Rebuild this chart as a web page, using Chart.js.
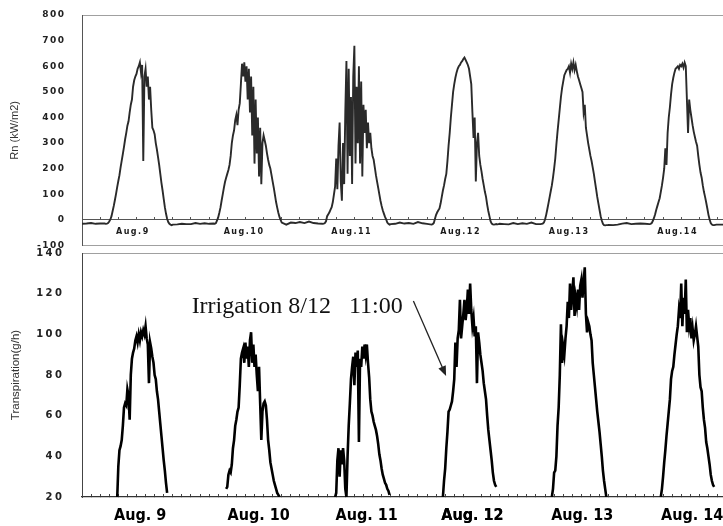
<!DOCTYPE html>
<html>
<head>
<meta charset="utf-8">
<script src="https://cdn.jsdelivr.net/npm/chart.js@4.4.0/dist/chart.umd.min.js"></script>
<style>
  html, body { margin: 0; padding: 0; background: #fff; }
  #wrap { position: relative; width: 723px; height: 526px; overflow: hidden; }
  canvas { position: absolute; left: 0; }
  #rn { top: 0; }
  #tp { top: 240px; }
</style>
</head>
<body>
<div id="wrap">
  <canvas id="rn" width="740" height="256"></canvas>
  <canvas id="tp" width="740" height="286"></canvas>
</div>
<script>
// time axis: hours counted from Aug 9, 00:00
const rnLabels = ['Aug.9', 'Aug.10', 'Aug.11', 'Aug.12', 'Aug.13', 'Aug.14'];
const tpLabels = ['Aug. 9', 'Aug. 10', 'Aug. 11', 'Aug. 12', 'Aug. 13', 'Aug. 14'];
const rnLabelHours = [11.2, 35.7, 59.4, 83.4, 107.3, 131.2];
const tpLabelHours = [12.8, 38.9, 62.7, 86.0, 110.2, 134.4];

const step = 0.25;          // readings every 15 min in daytime
const rnDayStart = 5;       // Rn daytime block runs 5:00 - 20:00

// Rn at night, hourly: 0,1,2,3,4 h and 21,22,23 h
const rnNightHours = [0, 1, 2, 3, 4, 21, 22, 23];
const rnNight = [
  [-15, -14, -12, -15, -14, -17, -15, -16],
  [-16, -12, -15, -13, -15, -18, -10, -12],
  [-8, -12, -6, -12, -14, -15, -10, -14],
  [-12, -15, -8, -13, -15, -16, -17, -12],
  [-16, -13, -15, -10, -16, -20, -18, -14],
  [-12, -16, -15, -14, -15, -18, -18, -18]
];

// Rn (kW/m2) daytime, 5:00 to 20:00
const rnAug9 = [-14, -15, -14, -12, -6, 2, 15, 35, 55, 78,
  102, 128, 152, 175, 205, 232, 258, 285, 315, 340,
  368, 385, 420, 450, 470, 520, 545, 560, 570, 590,
  600, 615, 575, 605, 230, 560, 590, 520, 560, 470,
  520, 430, 360, 350, 335, 300, 275, 245, 215, 180,
  145, 115, 82, 50, 25, 5, -8, -15, -18, -20, -18];
const rnAug10 = [-14, -15, -12, -2, 10, 28, 48, 75, 100, 125,
  148, 165, 180, 195, 215, 250, 300, 330, 350, 390,
  410, 370, 430, 455, 530, 610, 560, 615, 540, 600,
  470, 590, 420, 560, 330, 520, 220, 470, 260, 400,
  170, 360, 140, 300, 330, 310, 290, 260, 235, 215,
  200, 175, 150, 125, 98, 70, 48, 28, 12, 0, -10];
const rnAug11 = [-15, -14, -12, -5, 15, 22, 30, 40, 50, 70,
  100, 130, 240, 120, 290, 380, 150, 75, 300, 140,
  420, 620, 180, 590, 250, 480, 140, 560, 680, 220,
  520, 300, 600, 220, 540, 170, 450, 340, 430, 280,
  380, 300, 340, 280, 250, 235, 205, 175, 150, 125,
  100, 75, 55, 38, 25, 12, 2, -10, -15, -18, -16];
const rnAug12 = [-18, -16, -12, 5, 20, 30, 38, 45, 65, 90,
  115, 135, 160, 180, 230, 290, 340, 400, 450, 500,
  530, 555, 575, 590, 600, 605, 615, 620, 628, 634,
  625, 615, 605, 590, 560, 530, 420, 320, 400, 150,
  300, 340, 250, 215, 190, 160, 135, 110, 90, 60,
  35, 15, -5, -14, -17, -18, -17, -16, -17, -16, -15];
const rnAug13 = [-16, -15, -14, -10, 2, 20, 42, 65, 88, 112,
  135, 165, 200, 240, 295, 345, 390, 435, 480, 515,
  540, 565, 575, 585, 590, 600, 575, 610, 590, 615,
  585, 605, 580, 560, 545, 530, 515, 500, 420, 450,
  360, 330, 300, 275, 250, 230, 205, 180, 150, 120,
  90, 65, 40, 15, -2, -15, -20, -21, -20, -20, -19];
const rnAug14 = [-16, -15, -12, -3, 8, 22, 40, 55, 70, 85,
  110, 135, 165, 200, 280, 215, 340, 400, 440, 490,
  530, 555, 575, 590, 595, 600, 590, 605, 600, 610,
  595, 614, 600, 470, 340, 470, 430, 400, 370, 345,
  325, 305, 290, 250, 215, 185, 165, 135, 110, 90,
  68, 45, 20, 2, -12, -18, -20, -20, -19, -18, -18];
const rnDays = [rnAug9, rnAug10, rnAug11, rnAug12, rnAug13, rnAug14];

// Transpiration (g/h), daytime only, starting at tpStart hour of each day
const tpStart = [7.75, 7.75, 7.75, 7.5, 7.5, 7.5];
const tpAug9 = [19, 35, 43, 45, 48, 55, 64, 66, 65, 73,
  70, 58, 80, 88, 91, 93, 97, 99, 96, 100,
  97, 101, 99, 102, 100, 104, 98, 95, 76, 96,
  93, 89, 86, 80, 78, 72, 68, 62, 56, 50,
  44, 38, 33, 27, 22];
const tpAug10 = [24, 25, 31, 33, 32, 36, 44, 48, 55, 58,
  62, 64, 75, 88, 91, 93, 86, 96, 88, 94,
  84, 97, 101, 86, 95, 84, 90, 80, 72, 84,
  66, 48, 62, 66, 67, 65, 58, 48, 43, 37,
  34, 31, 28, 26, 24, 22, 21, 20];
const tpAug11 = [20, 22, 38, 44, 30, 43, 36, 44, 38, 24,
  20, 40, 55, 66, 78, 84, 89, 75, 91, 84,
  92, 47, 88, 84, 94, 88, 95, 90, 95, 86,
  79, 68, 62, 60, 57, 55, 53, 50, 46, 41,
  38, 34, 31, 29, 27, 26, 24, 23, 21];
const tpAug12 = [20, 28, 34, 44, 52, 62, 63, 65, 67, 72,
  78, 96, 84, 98, 102, 117, 98, 104, 110, 117,
  107, 112, 122, 110, 125, 112, 104, 108, 99, 104,
  76, 101, 96, 90, 86, 82, 76, 72, 68, 60,
  53, 48, 43, 38, 32, 28, 26, 25];
const tpAug13 = [20, 24, 32, 33, 40, 55, 64, 80, 105, 86,
  94, 90, 98, 104, 116, 108, 125, 112, 120, 128,
  109, 118, 114, 122, 112, 124, 127, 118, 126, 133,
  110, 101, 106, 104, 100, 97, 86, 80, 74, 68,
  62, 57, 52, 46, 40, 33, 28, 24, 20];
const tpAug14 = [20, 24, 30, 37, 43, 50, 56, 62, 68, 78,
  82, 84, 90, 95, 100, 104, 112, 108, 125, 104,
  118, 110, 127, 101, 112, 104, 108, 98, 103, 97,
  100, 104, 99, 94, 80, 74, 72, 64, 58, 54,
  47, 44, 40, 36, 31, 28, 26, 25];
const tpDays = [tpAug9, tpAug10, tpAug11, tpAug12, tpAug13, tpAug14];

const xMax = 141.2;

// annotation placement (hour, g/h)
const noteText = 'Irrigation 8/12   11:00';
const notePos = [24.15, 110.6];
const arrowFrom = [73.0, 116.4];
const arrowTo = [80.2, 79.5];

const rnPoints = [];
rnDays.forEach((vals, d) => {
  const night = rnNight[d];
  rnNightHours.forEach((h, i) => {
    if (h < rnDayStart) rnPoints.push({x: d * 24 + h, y: night[i]});
  });
  vals.forEach((v, i) => rnPoints.push({x: d * 24 + rnDayStart + i * step, y: v}));
  rnNightHours.forEach((h, i) => {
    if (h > rnDayStart) rnPoints.push({x: d * 24 + h, y: night[i]});
  });
});

const tpPoints = [];
tpDays.forEach((vals, d) => {
  vals.forEach((v, i) => tpPoints.push({x: d * 24 + tpStart[d] + i * step, y: v}));
  tpPoints.push({x: d * 24 + 21, y: null});
});

const hourTicks = (every, labelHours) => (scale) => {
  const t = [];
  for (let h = 0; h <= xMax; h += every) t.push(h);
  labelHours.forEach(h => t.push(h));
  t.sort((a, b) => a - b);
  scale.ticks = t.map(v => ({value: v}));
};

const dayLabel = (labelHours, labels) => (value) => {
  const i = labelHours.indexOf(value);
  return i < 0 ? '' : labels[i];
};

const markColor = (labelHours, color) => (ctx) =>
  ctx.tick && labelHours.includes(ctx.tick.value) ? 'rgba(0,0,0,0)' : color;

// tick labels (z: 1) are drawn after the datasets, with letter spacing
const spacedTicks = (px) => ({
  id: 'spacedTicks',
  beforeDraw(chart) { chart.ctx.letterSpacing = '0px'; },
  afterDatasetsDraw(chart) { chart.ctx.letterSpacing = px; }
});

const irrigationNote = {
  id: 'irrigationNote',
  afterDatasetsDraw(chart) {
    const {ctx, scales: {x, y}} = chart;
    ctx.save();
    ctx.letterSpacing = '0px';
    ctx.font = '24px "Liberation Serif", "Times New Roman", serif';
    ctx.fillStyle = '#111';
    ctx.textBaseline = 'alphabetic';
    ctx.fillText(noteText, x.getPixelForValue(notePos[0]), y.getPixelForValue(notePos[1]));

    const x0 = x.getPixelForValue(arrowFrom[0]), y0 = y.getPixelForValue(arrowFrom[1]);
    const x1 = x.getPixelForValue(arrowTo[0]), y1 = y.getPixelForValue(arrowTo[1]);
    const a = Math.atan2(y1 - y0, x1 - x0);
    ctx.strokeStyle = '#222';
    ctx.lineWidth = 1.3;
    ctx.beginPath();
    ctx.moveTo(x0, y0);
    ctx.lineTo(x1 - 7 * Math.cos(a), y1 - 7 * Math.sin(a));
    ctx.stroke();
    ctx.fillStyle = '#222';
    ctx.beginPath();
    ctx.moveTo(x1, y1);
    ctx.lineTo(x1 - 10 * Math.cos(a) + 4 * Math.sin(a), y1 - 10 * Math.sin(a) - 4 * Math.cos(a));
    ctx.lineTo(x1 - 10 * Math.cos(a) - 4 * Math.sin(a), y1 - 10 * Math.sin(a) + 4 * Math.cos(a));
    ctx.closePath();
    ctx.fill();
    ctx.restore();
  }
};

const numFont = (size) => ({family: "'DejaVu Sans', sans-serif", size: size, weight: 'bold'});

new Chart(document.getElementById('rn').getContext('2d'), {
  type: 'line',
  data: {
    datasets: [{
      label: 'Rn',
      data: rnPoints,
      borderColor: '#2a2a2a',
      borderWidth: 1.9,
      pointRadius: 0,
      tension: 0,
      fill: false
    }]
  },
  options: {
    responsive: false,
    animation: false,
    devicePixelRatio: 1,
    layout: {padding: {top: 15, bottom: 10.4, left: 0, right: 17}},
    plugins: {legend: {display: false}, tooltip: {enabled: false}},
    scales: {
      x: {
        type: 'linear',
        min: 0,
        max: xMax,
        position: {y: 0},
        afterBuildTicks: hourTicks(4, rnLabelHours),
        afterFit: (s) => { s.height = 0; },
        ticks: {
          autoSkip: false,
          maxRotation: 0,
          padding: 10.5,
          z: 1,
          color: '#1a1a1a',
          font: numFont(8),
          callback: dayLabel(rnLabelHours, rnLabels)
        },
        grid: {
          drawOnChartArea: false,
          tickLength: -3,
          tickColor: markColor(rnLabelHours, '#555')
        },
        border: {color: '#555', width: 1}
      },
      y: {
        min: -100,
        max: 800,
        afterFit: (s) => { s.width = 82; },
        ticks: {stepSize: 100, padding: 1, z: 1, color: '#222', font: numFont(9)},
        grid: {
          tickLength: 15.5,
          tickColor: 'rgba(0,0,0,0)',
          color: (c) => (c.tick.value === 800 || c.tick.value === -100) ? '#a0a0a0' : 'rgba(0,0,0,0)'
        },
        border: {color: '#555', width: 1},
        title: {
          display: true,
          text: 'Rn (kW/m2)',
          color: '#333',
          font: {family: "'Liberation Sans', Arial, sans-serif", size: 11},
          padding: {top: 8.5, bottom: 0}
        }
      }
    }
  },
  plugins: [spacedTicks('1.5px')]
});

new Chart(document.getElementById('tp').getContext('2d'), {
  type: 'line',
  data: {
    datasets: [{
      label: 'Transpiration',
      data: tpPoints,
      borderColor: '#000',
      borderWidth: 2.6,
      pointRadius: 0,
      tension: 0,
      spanGaps: false,
      fill: false
    }]
  },
  options: {
    responsive: false,
    animation: false,
    devicePixelRatio: 1,
    layout: {padding: {top: 13, bottom: 0, left: 0, right: 17}},
    plugins: {legend: {display: false}, tooltip: {enabled: false}},
    scales: {
      x: {
        type: 'linear',
        min: 0,
        max: xMax,
        position: 'bottom',
        afterBuildTicks: hourTicks(2, tpLabelHours),
        afterFit: (s) => { s.height = 29; },
        ticks: {
          autoSkip: false,
          maxRotation: 0,
          padding: 12,
          color: '#000',
          font: {family: "'Liberation Sans Narrow', 'DejaVu Sans Condensed', sans-serif", size: 16, weight: 'bold'},
          callback: dayLabel(tpLabelHours, tpLabels)
        },
        grid: {
          drawOnChartArea: false,
          tickLength: -3,
          tickColor: markColor(tpLabelHours, '#444')
        },
        border: {color: '#333', width: 1.2}
      },
      y: {
        min: 20,
        max: 140,
        afterFit: (s) => { s.width = 82; },
        ticks: {stepSize: 20, padding: 0, z: 1, color: '#222', font: numFont(10)},
        grid: {
          tickLength: 17.5,
          tickColor: 'rgba(0,0,0,0)',
          color: (c) => c.tick.value === 140 ? '#a0a0a0' : 'rgba(0,0,0,0)'
        },
        border: {color: '#444', width: 1},
        title: {
          display: true,
          text: 'Transpiration(g/h)',
          color: '#333',
          font: {family: "'Liberation Sans', Arial, sans-serif", size: 11.5},
          padding: {top: 9, bottom: 0}
        }
      }
    }
  },
  plugins: [irrigationNote, spacedTicks('2.5px')]
});
</script>
</body>
</html>
